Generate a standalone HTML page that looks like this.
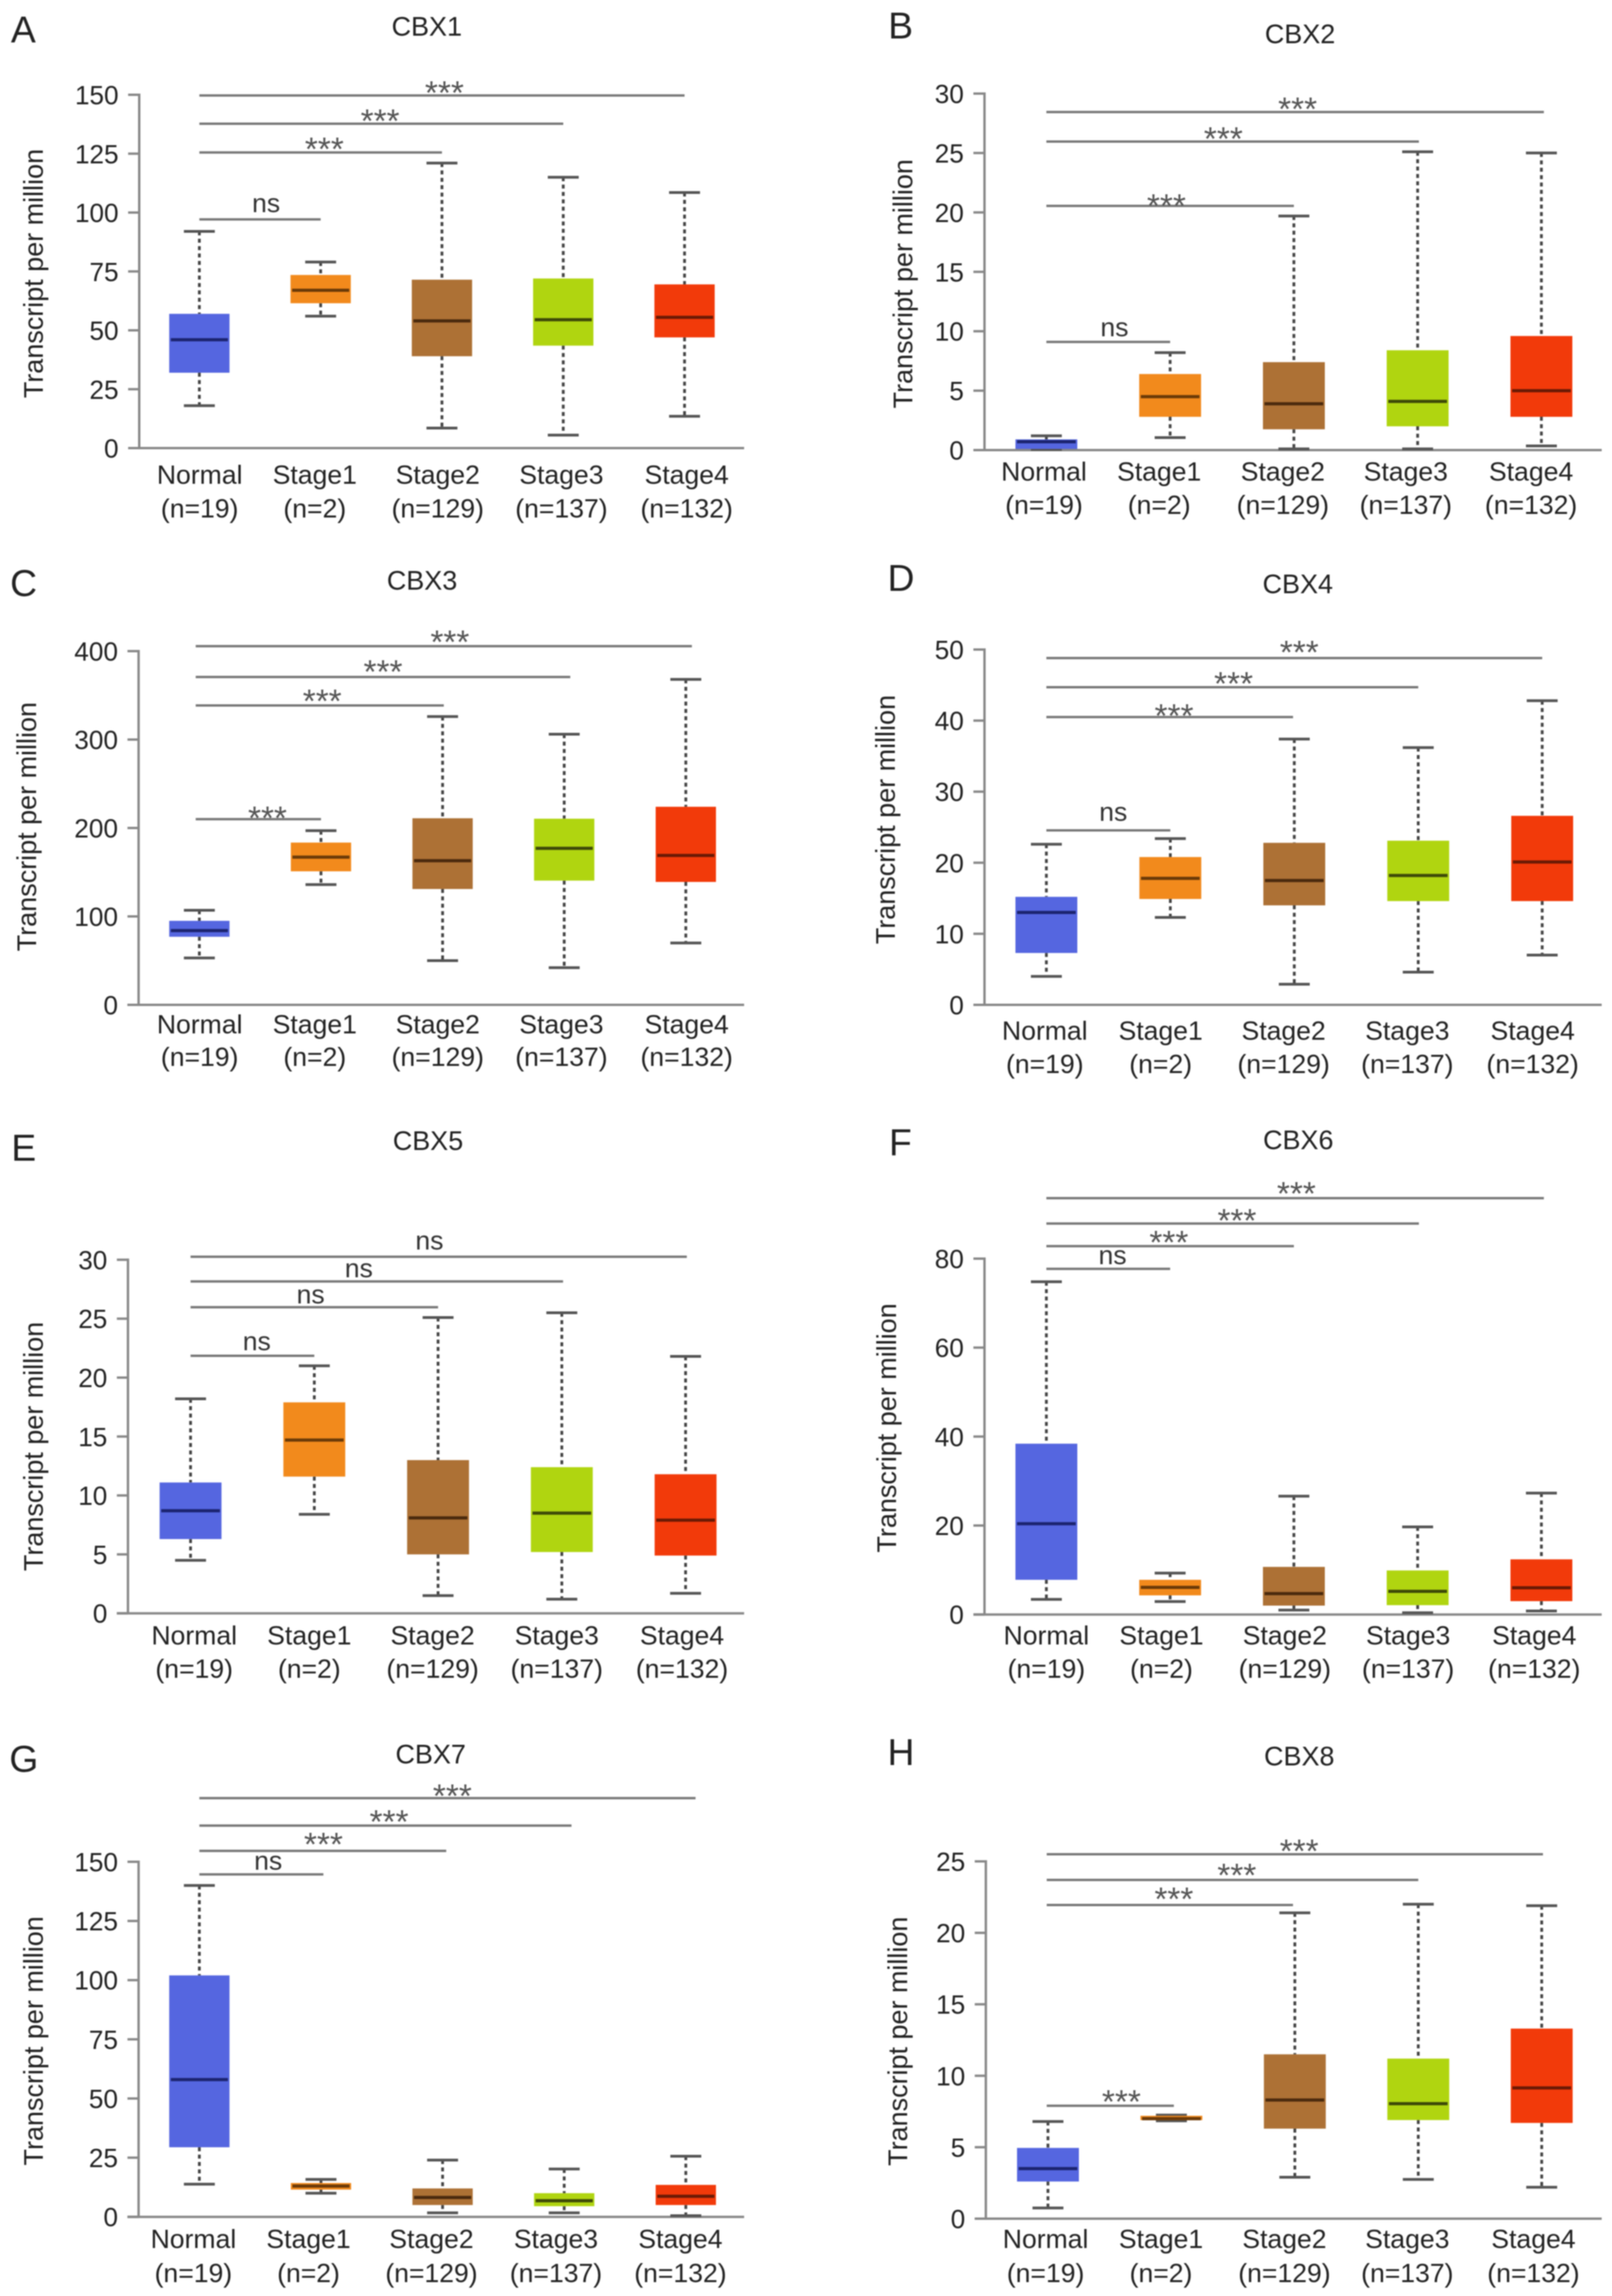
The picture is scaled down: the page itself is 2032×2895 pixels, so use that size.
<!DOCTYPE html>
<html lang="en">
<head>
<meta charset="utf-8">
<title>CBX transcript expression by tumour stage</title>
<style>
html,body{margin:0;padding:0;background:#fff;}
svg{display:block;filter:blur(0.8px);}
text{font-family:"Liberation Sans",Arial,sans-serif;fill:#222;}
</style>
</head>
<body>
<svg id="figure" xmlns="http://www.w3.org/2000/svg" width="2032" height="2895" viewBox="0 0 2032 2895"></svg>
<script>
const categories=['Normal','Stage1','Stage2','Stage3','Stage4'];
const sampleLabels=['(n=19)','(n=2)','(n=129)','(n=137)','(n=132)'];
const boxColors=['#5566e0','#f28a1c','#ad7135','#b0d510','#f23a0a'];
const medianColors=['#1c2470','#6b3a08','#4a2a0e','#3e4a08','#6a1a05'];

const cbx1Ticks=[0,25,50,75,100,125,150];
const cbx1Upper=[92,79,121,115,108.5];
const cbx1Q3=[57,73.5,71.5,72,69.5];
const cbx1Median=[46,67,54,54.5,55.5];
const cbx1Q1=[32,61.5,39,43.5,47];
const cbx1Lower=[18,56,8.5,5.5,13.5];
const cbx1BracketEnd=[1,2,3,4];
const cbx1BracketY=[97.1,125.5,137.7,149.7];
const cbx1BracketText=['ns','***','***','***'];
const cbx1BracketTextAt=[0.55,1.03,1.49,2.02];

const cbx2Ticks=[0,5,10,15,20,25,30];
const cbx2Upper=[1.2,8.2,19.7,25.1,25];
const cbx2Q3=[0.9,6.4,7.4,8.4,9.6];
const cbx2Median=[0.7,4.5,3.9,4.1,5];
const cbx2Q1=[0.1,2.8,1.75,2,2.8];
const cbx2Lower=[0.05,1.05,0.1,0.1,0.35];
const cbx2BracketEnd=[1,2,3.01,4.02];
const cbx2BracketY=[9.1,20.55,25.96,28.45];
const cbx2BracketText=['ns','***','***','***'];
const cbx2BracketTextAt=[0.55,0.97,1.43,2.03];

const cbx3Ticks=[0,100,200,300,400];
const cbx3Upper=[107,197,326,306,368];
const cbx3Q3=[95,183.5,211,210.5,224];
const cbx3Median=[84,167,163,177,169];
const cbx3Q1=[77,151,131,140.5,139];
const cbx3Lower=[53,136,50,42,70];
const cbx3BracketEnd=[1,2.01,3.05,4.05];
const cbx3BracketY=[210,338.6,370.7,405.6];
const cbx3BracketText=['***','***','***','***'];
const cbx3BracketTextAt=[0.56,1.01,1.51,2.06];

const cbx4Ticks=[0,10,20,30,40,50];
const cbx4Upper=[22.6,23.4,37.4,36.2,42.8];
const cbx4Q3=[15.2,20.8,22.8,23.1,26.6];
const cbx4Median=[13,17.8,17.5,18.2,20.1];
const cbx4Q1=[7.3,14.9,14,14.6,14.6];
const cbx4Lower=[4,12.3,2.9,4.6,7];
const cbx4BracketEnd=[1,1.99,3,4];
const cbx4BracketY=[24.55,40.5,44.7,48.8];
const cbx4BracketText=['ns','***','***','***'];
const cbx4BracketTextAt=[0.54,1.03,1.51,2.04];

const cbx5Ticks=[0,5,10,15,20,25,30];
const cbx5Upper=[18.2,21,25.1,25.5,21.8];
const cbx5Q3=[11.1,17.9,13,12.4,11.8];
const cbx5Median=[8.7,14.7,8.1,8.5,7.9];
const cbx5Q1=[6.3,11.6,5,5.2,4.9];
const cbx5Lower=[4.5,8.4,1.5,1.2,1.7];
const cbx5BracketEnd=[1,2,3.01,4.01];
const cbx5BracketY=[21.85,25.97,28.16,30.25];
const cbx5BracketText=['ns','ns','ns','ns'];
const cbx5BracketTextAt=[0.535,0.97,1.36,1.93];

const cbx6Ticks=[0,20,40,60,80];
const cbx6Upper=[74.8,9.3,26.6,19.7,27.3];
const cbx6Q3=[38.4,7.8,10.7,9.9,12.4];
const cbx6Median=[20.4,6.1,4.7,5.2,6];
const cbx6Q1=[7.8,4.3,2,2.1,3];
const cbx6Lower=[3.4,2.9,1,0.4,0.8];
const cbx6BracketEnd=[1,2,3.01,4.02];
const cbx6BracketY=[77.7,82.8,87.9,93.6];
const cbx6BracketText=['ns','***','***','***'];
const cbx6BracketTextAt=[0.535,0.99,1.54,2.02];

const cbx7Ticks=[0,25,50,75,100,125,150];
const cbx7Upper=[140,15.8,24,20.2,25.6];
const cbx7Q3=[102,14.3,12,10,13.5];
const cbx7Median=[58,13,8.2,6.8,8.7];
const cbx7Q1=[29.4,11.5,5,4.5,5];
const cbx7Lower=[13.8,10,1.7,1.7,0.5];
const cbx7BracketEnd=[1.02,2.03,3.06,4.08];
const cbx7BracketY=[144.7,154.6,165.3,176.9];
const cbx7BracketText=['ns','***','***','***'];
const cbx7BracketTextAt=[0.566,1.02,1.56,2.08];

const cbx8Ticks=[0,5,10,15,20,25];
const cbx8Upper=[6.8,7.25,21.4,22,21.9];
const cbx8Q3=[4.95,7.2,11.5,11.2,13.3];
const cbx8Median=[3.5,7,8.3,8.05,9.15];
const cbx8Q1=[2.6,6.9,6.3,6.9,6.7];
const cbx8Lower=[0.75,6.85,2.9,2.75,2.2];
const cbx8BracketEnd=[1.02,1.985,3,4.01];
const cbx8BracketY=[7.9,21.95,23.7,25.5];
const cbx8BracketText=['***','***','***','***'];
const cbx8BracketTextAt=[0.595,1.02,1.53,2.035];

const panels=[
 {gene:'CBX1',letter:'A',ticks:cbx1Ticks,upper:cbx1Upper,q3:cbx1Q3,median:cbx1Median,q1:cbx1Q1,lower:cbx1Lower,bEnd:cbx1BracketEnd,bY:cbx1BracketY,bText:cbx1BracketText,bAt:cbx1BracketTextAt,gaps:[9,10,9,9],bStart:0,
  ax:175.5,y0:565,yTop:119.5,c0:251.3,step:152.9,boxW:76,xEnd:938,labelX:[251.7,396.8,551.8,707.7,865.6],b1:610,b2:652.5,titleX:538,titleY:44.8,letterX:13.8,letterY:53.7,yTitleX:54,yTitleY:344.9},
 {gene:'CBX2',letter:'B',ticks:cbx2Ticks,upper:cbx2Upper,q3:cbx2Q3,median:cbx2Median,q1:cbx2Q1,lower:cbx2Lower,bEnd:cbx2BracketEnd,bY:cbx2BracketY,bText:cbx2BracketText,bAt:cbx2BracketTextAt,gaps:[7,5.5,9,9],bStart:0,
  ax:1241,y0:567.5,yTop:118,c0:1319,step:156,boxW:78,xEnd:2019,labelX:[1316,1461.2,1617.1,1772.1,1930],b1:606,b2:647.8,titleX:1638.8,titleY:54.4,letterX:1119.6,letterY:48.3,yTitleX:1150,yTitleY:357.8},
 {gene:'CBX3',letter:'C',ticks:cbx3Ticks,upper:cbx3Upper,q3:cbx3Q3,median:cbx3Median,q1:cbx3Q1,lower:cbx3Lower,bEnd:cbx3BracketEnd,bY:cbx3BracketY,bText:cbx3BracketText,bAt:cbx3BracketTextAt,gaps:[7,11,12,11],bStart:-0.03,
  ax:174.7,y0:1267,yTop:821,c0:251.3,step:153.3,boxW:76,xEnd:938,labelX:[251.7,396.8,551.8,707.7,865.6],b1:1303,b2:1343.8,titleX:532,titleY:743.3,letterX:12.8,letterY:751.7,yTitleX:45.5,yTitleY:1042.3},
 {gene:'CBX4',letter:'D',ticks:cbx4Ticks,upper:cbx4Upper,q3:cbx4Q3,median:cbx4Median,q1:cbx4Q1,lower:cbx4Lower,bEnd:cbx4BracketEnd,bY:cbx4BracketY,bText:cbx4BracketText,bAt:cbx4BracketTextAt,gaps:[12,7,10,13],bStart:0,
  ax:1241,y0:1267,yTop:819,c0:1319,step:156.25,boxW:78,xEnd:2019,labelX:[1317,1463.1,1618.1,1774,1932],b1:1311,b2:1352.8,titleX:1635.9,titleY:747.8,letterX:1118.7,letterY:744.8,yTitleX:1128,yTitleY:1033.4},
 {gene:'CBX5',letter:'E',ticks:cbx5Ticks,upper:cbx5Upper,q3:cbx5Q3,median:cbx5Median,q1:cbx5Q1,lower:cbx5Lower,bEnd:cbx5BracketEnd,bY:cbx5BracketY,bText:cbx5BracketText,bAt:cbx5BracketTextAt,gaps:[7,5,5,9],bStart:0,
  ax:161.3,y0:2034.2,yTop:1588.4,c0:240.2,step:156,boxW:78,xEnd:938,labelX:[244.8,389.9,545.3,701.8,859.7],b1:2073.5,b2:2115.3,titleX:539.5,titleY:1450.2,letterX:14.2,letterY:1463.7,yTitleX:54,yTitleY:1823.8},
 {gene:'CBX6',letter:'F',ticks:cbx6Ticks,upper:cbx6Upper,q3:cbx6Q3,median:cbx6Median,q1:cbx6Q1,lower:cbx6Lower,bEnd:cbx6BracketEnd,bY:cbx6BracketY,bText:cbx6BracketText,bAt:cbx6BracketTextAt,gaps:[6,10.5,9,11],bStart:0,
  ax:1241,y0:2035.7,yTop:1587,c0:1319,step:156,boxW:78,xEnd:2019,labelX:[1319,1464.1,1619.6,1775,1934],b1:2073.5,b2:2115.3,titleX:1636.5,titleY:1449.2,letterX:1120.6,letterY:1456.7,yTitleX:1129.5,yTitleY:1800.5},
 {gene:'CBX7',letter:'G',ticks:cbx7Ticks,upper:cbx7Upper,q3:cbx7Q3,median:cbx7Median,q1:cbx7Q1,lower:cbx7Lower,bEnd:cbx7BracketEnd,bY:cbx7BracketY,bText:cbx7BracketText,bAt:cbx7BracketTextAt,gaps:[6,14,10.5,8],bStart:0,
  ax:174.7,y0:2795.2,yTop:2347.5,c0:251.3,step:153.3,boxW:76,xEnd:938,labelX:[243.8,388.9,543.9,700.8,857.7],b1:2834.5,b2:2877.3,titleX:542.9,titleY:2223.6,letterX:11.8,letterY:2234,yTitleX:54,yTitleY:2573.3},
 {gene:'CBX8',letter:'H',ticks:cbx8Ticks,upper:cbx8Upper,q3:cbx8Q3,median:cbx8Median,q1:cbx8Q1,lower:cbx8Lower,bEnd:cbx8BracketEnd,bY:cbx8BracketY,bText:cbx8BracketText,bAt:cbx8BracketTextAt,gaps:[10.5,13,11.5,9.5],bStart:-0.01,
  ax:1242.7,y0:2797.5,yTop:2347,c0:1321,step:155.6,boxW:78,xEnd:2019,labelX:[1318,1463.5,1619.1,1774,1933],b1:2834.5,b2:2877.3,titleX:1637.8,titleY:2226,letterX:1118.7,letterY:2225.6,yTitleX:1143.5,yTitleY:2573.8}
];

const NS='http://www.w3.org/2000/svg';
const figure=document.getElementById('figure');

function make(parent,tag,attrs,content){
  const node=document.createElementNS(NS,tag);
  for(const key in attrs){node.setAttribute(key,attrs[key]);}
  if(content!==undefined){node.textContent=content;}
  parent.appendChild(node);
  return node;
}

function drawPanel(p){
  const yMax=p.ticks[p.ticks.length-1];
  const yScale=v=>p.y0-(v/yMax)*(p.y0-p.yTop);
  const xScale=i=>p.c0+i*p.step;

  const group=make(figure,'g',{});
  
  

  const letter=make(group,'text',{x:p.letterX,y:p.letterY,'font-size':47},p.letter);
  
  

  const title=make(group,'text',{x:p.titleX,y:p.titleY,'font-size':34,'text-anchor':'middle'},p.gene);
  
  

  const yTitle=make(group,'text',{x:0,y:0,'font-size':34,'text-anchor':'middle',transform:'translate('+p.yTitleX+' '+p.yTitleY+') rotate(-90)'},'Transcript per million');
  
  

  const yAxis=make(group,'line',{x1:p.ax,x2:p.ax,y1:p.yTop-1.5,y2:p.y0,stroke:'#888','stroke-width':3});
  
  

  const xAxis=make(group,'line',{x1:p.ax-14,x2:p.xEnd,y1:p.y0,y2:p.y0,stroke:'#888','stroke-width':3});
  
  

  p.ticks.forEach(t=>{
    const mark=make(group,'line',{x1:p.ax-14,x2:p.ax,y1:yScale(t),y2:yScale(t),stroke:'#888','stroke-width':3});
    
    
    const label=make(group,'text',{x:p.ax-26,y:yScale(t)+12,'font-size':33,'text-anchor':'end'},String(t));
    
    
  });

  categories.forEach((cat,i)=>{
    const line1=make(group,'text',{x:p.labelX[i],y:p.b1,'font-size':33.5,'text-anchor':'middle'},cat);
    
    
    const line2=make(group,'text',{x:p.labelX[i],y:p.b2,'font-size':33.5,'text-anchor':'middle'},sampleLabels[i]);
    
    

    const cx=xScale(i);
    const upperWhisker=make(group,'line',{x1:cx,x2:cx,y1:yScale(p.upper[i]),y2:yScale(p.q3[i]),stroke:'#444','stroke-width':3.5,'stroke-dasharray':'5 4.3'});
    
    
    const lowerWhisker=make(group,'line',{x1:cx,x2:cx,y1:yScale(p.q1[i]),y2:yScale(p.lower[i]),stroke:'#444','stroke-width':3.5,'stroke-dasharray':'5 4.3'});
    
    
    const upperCap=make(group,'line',{x1:cx-19.5,x2:cx+19.5,y1:yScale(p.upper[i]),y2:yScale(p.upper[i]),stroke:'#555','stroke-width':3.5});
    
    
    const lowerCap=make(group,'line',{x1:cx-19.5,x2:cx+19.5,y1:yScale(p.lower[i]),y2:yScale(p.lower[i]),stroke:'#555','stroke-width':3.5});
    
    
    const box=make(group,'rect',{x:cx-p.boxW/2,y:yScale(p.q3[i]),width:p.boxW,height:yScale(p.q1[i])-yScale(p.q3[i]),fill:boxColors[i]});
    
    
    const med=make(group,'line',{x1:cx-p.boxW/2+2,x2:cx+p.boxW/2-2,y1:yScale(p.median[i]),y2:yScale(p.median[i]),stroke:medianColors[i],'stroke-width':4});
    
    
  });

  p.bY.forEach((v,k)=>{
    const ly=yScale(v);
    const bracket=make(group,'line',{x1:xScale(p.bStart),x2:xScale(p.bEnd[k]),y1:ly,y2:ly,stroke:'#777','stroke-width':3});
    
    
    const isStars=p.bText[k]==='***';
    const sig=make(group,'text',{x:xScale(p.bAt[k]),y:isStars?ly-p.gaps[k]+20:ly-p.gaps[k],'font-size':isStars?42:33.5,'text-anchor':'middle'},p.bText[k]);
    sig.style.fill=isStars?'#555':'#333';
    
    
  });
}

panels.forEach(drawPanel);
</script>
</body>
</html>
